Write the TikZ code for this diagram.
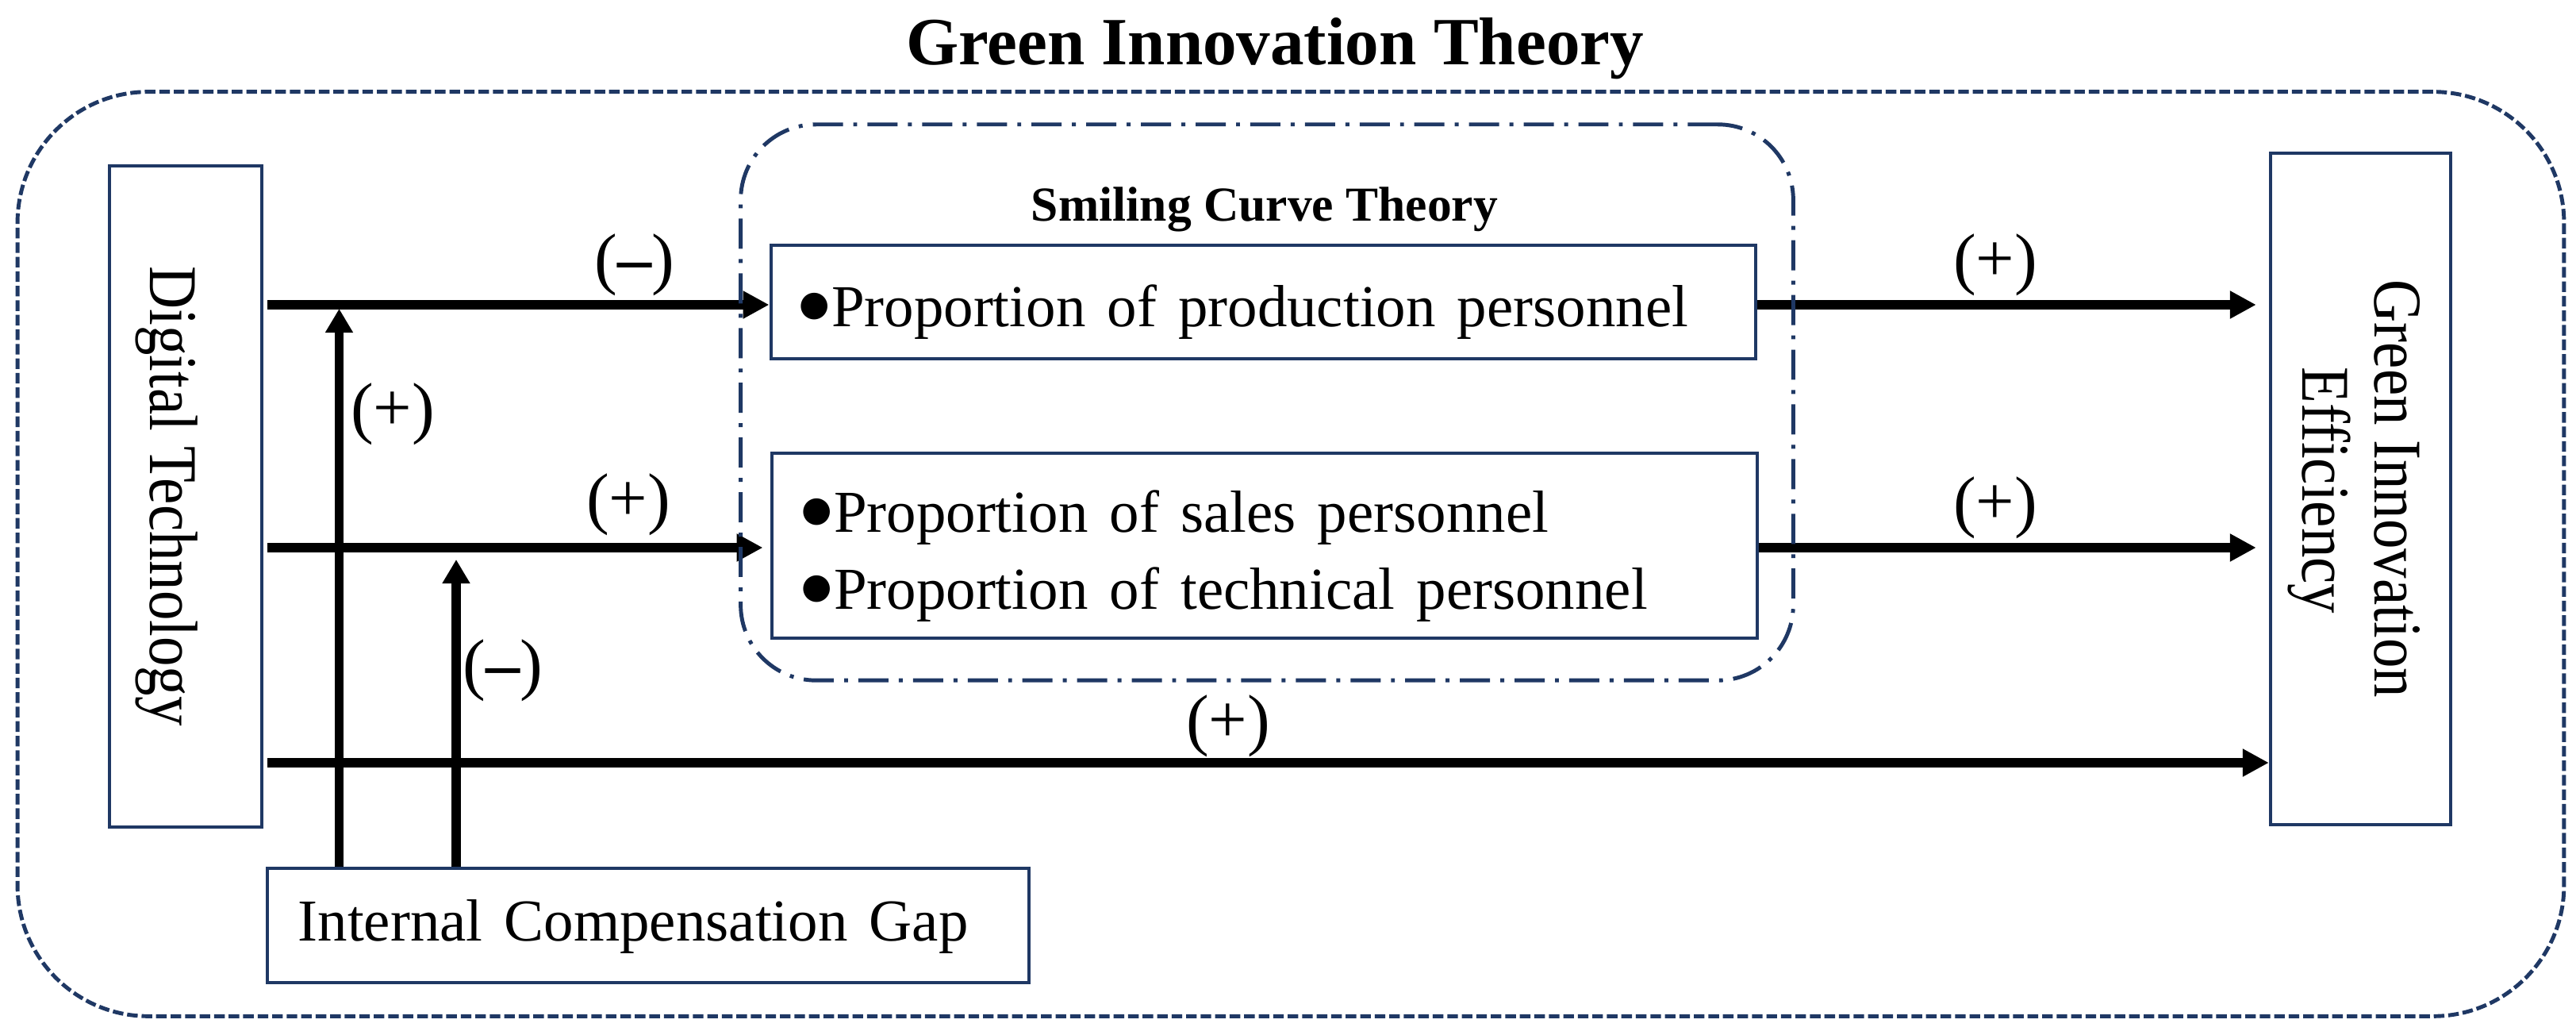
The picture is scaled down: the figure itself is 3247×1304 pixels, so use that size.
\documentclass[tikz,border=0pt]{standalone}
\usepackage{fontspec}
\setmainfont{Liberation Serif}
\newfontfamily\bodyfont{Liberation Serif}[WordSpace=1.45]
\newfontfamily\bulfont{DejaVu Sans}
\usetikzlibrary{arrows.meta}
\definecolor{navy}{HTML}{1F3864}
\newcommand{\bigbul}{{\bulfont\fontsize{12.5}{12.5}\selectfont\raisebox{0.14cm}{●}}\kern0.02cm}
\begin{document}
\begin{tikzpicture}[x=0.01cm,y=-0.01cm,
  box/.style={draw=navy, line width=1.2pt, fill=white, inner sep=0pt},
  txt/.style={inner sep=0pt, font=\bodyfont\fontsize{21.3}{25}\selectfont},
  rtxt/.style={inner sep=0pt, rotate=-90, anchor=base, font=\fontsize{21.3}{25}\selectfont},
  lbl/.style={inner sep=0pt, font=\fontsize{24.5}{28}\selectfont},
  arr/.style={line width=3.2pt, -{Triangle[length=0.33cm,width=0.33cm]}},
  varr/.style={line width=3.2pt, -{Triangle[length=0.30cm,width=0.33cm]}},
]
\useasboundingbox (0,0) rectangle (3247,1304);
\fill[white] (0,0) rectangle (3247,1304);

% title
\node[inner sep=0pt, anchor=base, font=\bfseries\fontsize{24.2}{29}\selectfont] (title) at (1607,82) {Green Innovation Theory};

% outer frame
\node[draw=navy, line width=1.4pt, dash pattern=on 3.8pt off 1.4pt, rounded corners=1.65cm,
      minimum width=32.08cm, minimum height=11.64cm, inner sep=0pt] (outer) at (1627,698) {};

% boxes
\node[box, minimum width=12.41cm, minimum height=1.43cm] (prod) at (1592.5,380.5) {};
\node[box, minimum width=12.42cm, minimum height=2.33cm] (sales) at (1594,687.5) {};
\node[box, minimum width=1.92cm, minimum height=8.33cm] (dig) at (234,625.5) {};
\node[box, minimum width=2.27cm, minimum height=8.46cm] (gie) at (2975.5,616) {};
\node[box, minimum width=9.60cm, minimum height=1.44cm] (icg) at (817,1166) {};

% anchor coordinates
\coordinate (d1) at (337,384);
\coordinate (d2) at (337,690);
\coordinate (d3) at (337,961);
\coordinate (t1) at (427.5,389);
\coordinate (t2) at (575,705);

% arrows
\draw[arr] (d1) -- (prod.west |- d1);
\draw[arr] (d2) -- ([xshift=-0.09cm]sales.west |- d2);
\draw[arr] (d3) -- (gie.west |- d3);
\draw[arr] (prod.east |- d1) -- ([xshift=-0.16cm]gie.west |- d1);
\draw[arr] (sales.east |- d2) -- ([xshift=-0.16cm]gie.west |- d2);
\draw[varr] (icg.north -| t1) -- (t1);
\draw[varr] (icg.north -| t2) -- (t2);

% smiling curve frame
\node[draw=navy, line width=1.4pt, dash pattern=on 10.8pt off 3.7pt on 1.4pt off 3.7pt,
      rounded corners=0.95cm, minimum width=13.26cm, minimum height=7.0cm, inner sep=0pt] (smile) at (1597,507) {};
\node[inner sep=0pt, anchor=base, font=\bfseries\fontsize{17.5}{21}\selectfont] (smilet) at (1594,279) {Smiling Curve Theory};

% texts
\node[txt, anchor=base west] (prodt) at (1007,412) {\bigbul Proportion of production personnel};
\node[txt, anchor=base west] (salest1) at (1010,671) {\bigbul Proportion of sales personnel};
\node[txt, anchor=base west] (salest2) at (1010,768) {\bigbul Proportion of technical personnel};
\node[txt, anchor=base west] (icgt) at (375,1186) {Internal Compensation Gap};
\node[rtxt] (digt) at (189,625) {\scalebox{1}[1.15]{Digital Technology}};
\node[rtxt] (giet1) at (2993,616) {\scalebox{1}[1.15]{Green Innovation}};
\node[rtxt] (giet2) at (2902,618) {\scalebox{1}[1.15]{Efficiency}};

% labels
\node[lbl] (l1) at (800,334) {(\textbf{–})};
\node[lbl] (l2) at (495,522) {(+)};
\node[lbl] (l3) at (792,636) {(+)};
\node[lbl] (l4) at (634,845) {(\textbf{–})};
\node[lbl] (l5) at (1548,915) {(+)};
\node[lbl] (l6) at (2515,334) {(+)};
\node[lbl] (l7) at (2515,640) {(+)};
\end{tikzpicture}
\end{document}
